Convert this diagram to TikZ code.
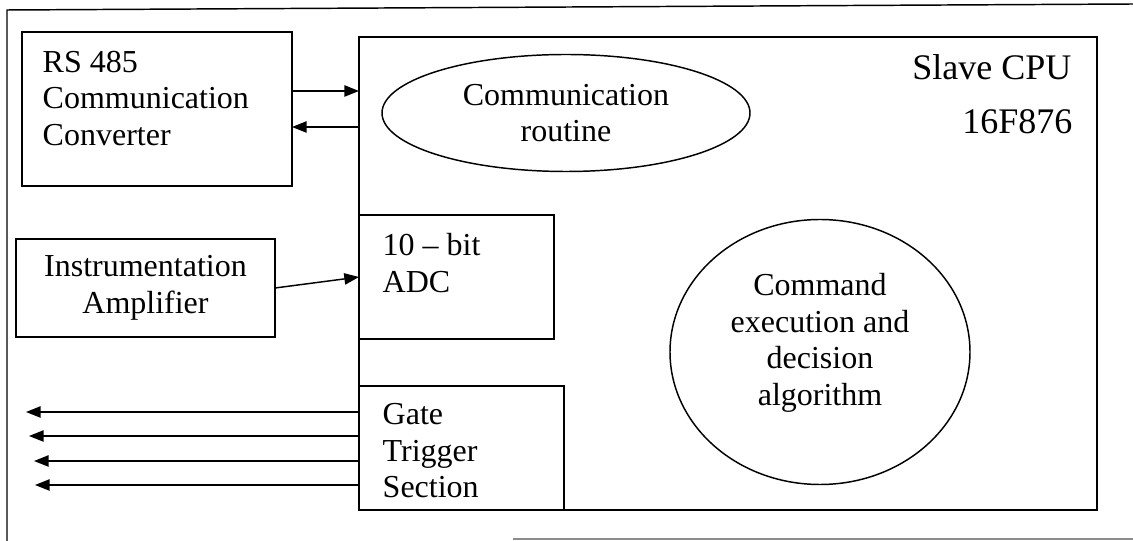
\documentclass[tikz,border=0pt]{standalone}
\usepackage{fontspec}
\setmainfont{Liberation Serif}
\usetikzlibrary{arrows.meta,shapes.geometric,calc}
\begin{document}
\def\pxu{0.75pt}
\begin{tikzpicture}[x=0.75pt,y=-0.75pt,
  line width=1.1pt,
  blk/.style={draw, rectangle, inner sep=0pt, outer sep=0pt, anchor=north west},
  oval/.style={draw, ellipse, inner sep=0pt, outer sep=0pt},
  txt/.style={inner sep=0pt, font=\fontsize{24}{27.4}\selectfont},
  big/.style={inner sep=0pt, font=\fontsize{27}{30}\selectfont},
  arr/.style={-{Triangle[length=11pt,width=8.5pt]}}]
\useasboundingbox (0,0) rectangle (1133,541);

% outer frame
\draw (7,541) -- (7,10) -- (1133,4);
\draw[black!45] (513,539) -- (1133,539);

% blocks
\node[blk, minimum width=270*\pxu, minimum height=154*\pxu] (rs) at (22,32) {};
\node[txt, anchor=north west, align=left] (rstxt) at (42,50) {RS 485\\Communication\\Converter};

\node[blk, txt, align=center, minimum width=259*\pxu, minimum height=98*\pxu] (amp) at (16,239) {Instrumentation\\Amplifier};

\node[blk, minimum width=738*\pxu, minimum height=473*\pxu] (cpu) at (359,37) {};
\node[big, anchor=base east] (cpuname) at (1072,80) {Slave CPU};
\node[big, anchor=base east] (cpupart) at (1073,134) {16F876};

\node[oval, txt, align=center, minimum width=368*\pxu, minimum height=117*\pxu] (comm) at (566,113) {Communication\\routine};

\node[blk, minimum width=195*\pxu, minimum height=124*\pxu] (adc) at (359,215) {};
\node[txt, anchor=north west, align=left] (adctxt) at (382,233) {10 – bit\\ADC};

\node[blk, minimum width=205*\pxu, minimum height=124*\pxu] (gate) at (359,386) {};
\node[txt, anchor=north west, align=left] (gatetxt) at (382,403) {Gate\\Trigger\\Section};

\node[oval, minimum width=300*\pxu, minimum height=265*\pxu] (cmd) at (820,352) {};
\node[txt, align=center] (cmdtxt) at (820,343) {Command\\execution and\\decision\\algorithm};

% connectors
\coordinate (tx) at (0,91);
\coordinate (rx) at (0,127);
\draw[arr] (rs.east |- tx) -- (cpu.west |- tx);
\draw[arr] (cpu.west |- rx) -- (rs.east |- rx);
\draw[arr] (amp.east) -- (adc.west);

\coordinate (g1) at (26,412);
\coordinate (g2) at (29,436);
\coordinate (g3) at (34,461);
\coordinate (g4) at (35,485);
\foreach \g in {g1,g2,g3,g4}
  \draw[arr] (gate.west |- \g) -- (\g);
\end{tikzpicture}
\end{document}
